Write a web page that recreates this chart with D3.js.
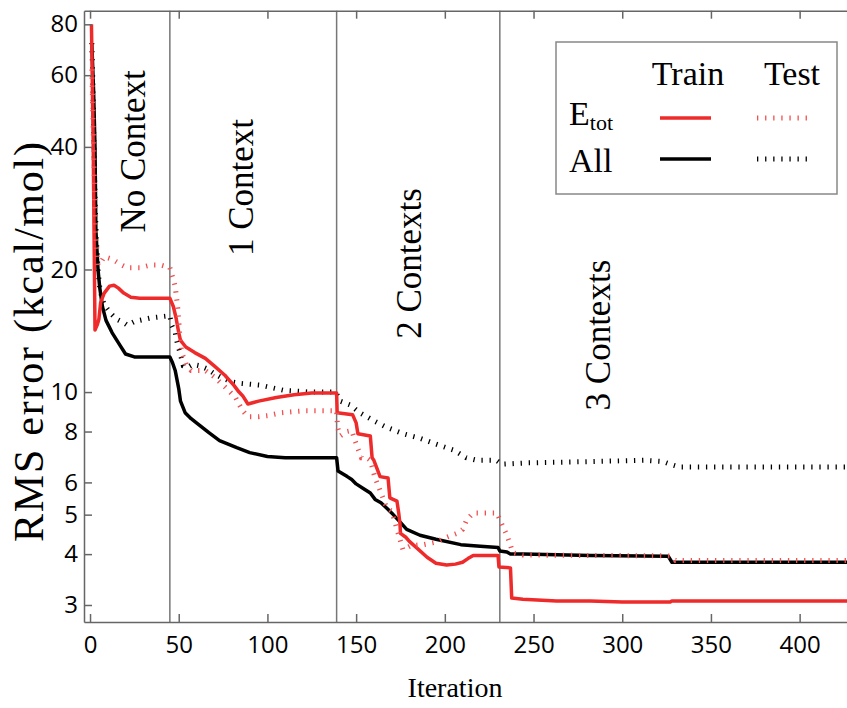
<!DOCTYPE html>
<html>
<head>
<meta charset="utf-8">
<script src="https://cdn.jsdelivr.net/npm/d3@7"></script>
<style>
  html, body { margin: 0; padding: 0; background: #fff; }
  svg { display: block; }
</style>
</head>
<body>
<svg id="chart" width="847" height="708"></svg>
<script>
// axis ticks
const iterTicks = [0, 50, 100, 150, 200, 250, 300, 350, 400];
const rmsTicks = [3, 4, 5, 6, 8, 10, 20, 40, 60, 80];

// where the context count changes (iteration)
const contextBounds = [45, 139, 231];
const phaseNames = ["No Context", "1 Context", "2 Contexts", "3 Contexts"];
const phaseIter = [31, 92, 186.5, 293];
const phaseRms = [39, 31.8, 20.7, 13.8];

// [iteration, RMS error]
const trainEtot = [
  [0.8, 80], [1.8, 40], [2.8, 14.2], [4, 14.6], [5, 15.1], [6, 16.6], [8, 17.5],
  [11, 18.2], [13.5, 18.3], [16, 18.0], [19, 17.5], [23, 17.1], [28, 17.0], [45, 17.0],
  [47, 16.2], [48.5, 15.2], [50, 14.0], [51, 13.4], [54, 12.9], [59, 12.5], [65, 12.1],
  [70, 11.6], [76, 11.0], [81, 10.4], [84, 10.0], [86, 9.8], [89, 9.35], [95, 9.5],
  [105, 9.7], [115, 9.85], [125, 9.95], [139, 9.95],
  [139.3, 8.9], [148, 8.8], [150, 8.4], [151, 7.9], [158, 7.8], [159, 6.9], [160, 6.8],
  [163.5, 6.2], [168, 6.15], [169, 5.5], [173, 5.4], [174, 5.05], [174.7, 4.75],
  [175, 4.5], [178, 4.4], [180, 4.3], [184, 4.15], [190, 3.93], [195, 3.8], [201, 3.76],
  [206, 3.78], [210, 3.82], [213, 3.9], [216, 3.97], [230, 3.97],
  [230.5, 3.72], [237, 3.7], [237.7, 3.12], [244, 3.1], [263, 3.07], [282, 3.07],
  [300, 3.05], [315, 3.05], [327, 3.05], [328, 3.07], [374, 3.07], [427, 3.07]
];
const testEtot = [
  [1, 62], [2, 40], [3, 25], [4.5, 20.5], [6, 20.8], [8, 21.5], [11, 21.3], [14, 21.0],
  [18, 20.5], [21, 20.2], [28, 20.2], [34, 20.5], [40, 20.5], [45, 20.2],
  [48, 18.2], [49.5, 16.0], [50.7, 13.6], [51.7, 12.5], [54.5, 11.6], [57, 11.3],
  [65, 11.3], [70, 10.9], [76, 10.3], [82, 9.7], [86, 9.0], [89, 8.7], [95, 8.7],
  [100, 8.75], [108, 8.9], [121, 9.0], [139, 9.0],
  [139.5, 8.2], [141, 7.8], [144.7, 8.0], [147.5, 8.05], [150.3, 7.4], [153, 6.9],
  [156, 6.9], [158, 6.8], [160.7, 6.15], [164.4, 5.6], [167.2, 5.2], [170, 5.1],
  [174.7, 4.35], [176.4, 4.1], [181, 4.2], [188, 4.22], [195, 4.28], [201, 4.4],
  [207, 4.5], [210, 4.6], [212.3, 4.85], [216, 5.05], [229.3, 5.05], [232, 4.75],
  [235, 4.45], [237, 4.2], [238.4, 4.03], [244, 3.98], [282, 3.97], [327, 3.96],
  [330, 3.86], [427, 3.86]
];
const trainAll = [
  [1, 72], [2, 55], [2.8, 40], [3.3, 25], [4.5, 20], [5.5, 18], [7, 16.2], [9, 15],
  [12.4, 14], [17, 13], [20, 12.4], [25, 12.2], [45, 12.2],
  [46.5, 11.8], [48, 11.3], [50, 10.2], [51, 9.5], [53.6, 8.9], [57, 8.6], [60, 8.4],
  [67, 7.95], [73, 7.6], [82.7, 7.3], [90, 7.1], [100, 6.95], [110, 6.9], [139, 6.9],
  [139.8, 6.4], [145, 6.2], [147.5, 6.1], [150, 5.95], [154, 5.8], [158, 5.65],
  [160.7, 5.45], [164, 5.35], [167, 5.2], [170, 5.05], [174.7, 4.8], [178.5, 4.6],
  [186, 4.45], [195, 4.35], [209, 4.22], [220, 4.18], [230, 4.15], [231, 4.07],
  [235, 4.05], [237, 4.0], [244, 4.0], [282, 3.97], [326, 3.95], [328, 3.82], [427, 3.82]
];
const testAll = [
  [1, 72], [1.5, 60], [2, 45], [2.5, 35], [3, 28], [3.5, 24], [4.5, 20], [5.6, 17.8],
  [7.9, 16.4], [11.7, 15.6], [15, 15.1], [19, 14.8], [21, 14.6], [25, 14.9], [34, 15.2],
  [45, 15.4],
  [46, 14.6], [48, 14.0], [49, 13.3], [50.7, 12.5], [52.6, 11.6], [55, 11.5], [58, 11.7],
  [62, 11.6], [66, 11.4], [70, 11.1], [75, 10.8], [80, 10.6], [85, 10.5], [96, 10.4],
  [109, 10.1], [124, 10.0], [138, 10.0],
  [139, 9.9], [141, 9.5], [146.6, 9.3], [152, 8.9], [160, 8.5], [167, 8.2], [176.6, 7.9],
  [186, 7.7], [195, 7.45], [205, 7.2], [212, 6.9], [218, 6.8], [229, 6.8], [232, 6.65],
  [246, 6.7], [282, 6.75], [312, 6.8], [323, 6.75], [327, 6.65], [332, 6.55], [427, 6.55]
];

const RED = "#ee2a2a";
const RED_DOT = "#f05050";
const FRAME = "#666";
const serif = "'Liberation Serif', 'Times New Roman', serif";
const sans = "'Open Sans', sans-serif";

const svg = d3.select("#chart");
const plotL = 84, plotR = 847, plotT = 10.7, plotB = 622;

const x = d3.scaleLinear().domain([-3.4, 426.7]).range([plotL, plotR]);
const y = d3.scaleLog().domain([2.725, 86.4]).range([plotB, plotT]);

svg.append("defs").append("clipPath").attr("id", "plot")
  .append("rect").attr("x", plotL).attr("y", plotT)
  .attr("width", plotR - plotL).attr("height", plotB - plotT);

// separators between context phases
svg.append("g").selectAll("line")
  .data(contextBounds)
  .join("line")
  .attr("x1", d => x(d)).attr("x2", d => x(d))
  .attr("y1", plotT).attr("y2", plotB)
  .attr("stroke", "#777").attr("stroke-width", 1.5);

// phase labels (rotated)
svg.append("g").selectAll("text")
  .data(phaseNames)
  .join("text")
  .attr("transform", (d, i) => `translate(${x(phaseIter[i])},${y(phaseRms[i])}) rotate(-90)`)
  .attr("text-anchor", "middle")
  .attr("font-family", serif)
  .attr("font-size", 35)
  .text(d => d);

// curves
const line = d3.line().x(d => x(d[0])).y(d => y(d[1]));
const curves = svg.append("g").attr("clip-path", "url(#plot)");

curves.append("path").datum(trainAll)
  .attr("d", line).attr("fill", "none")
  .attr("stroke", "#000").attr("stroke-width", 3.5).attr("stroke-linejoin", "round");
curves.append("path").datum(testAll)
  .attr("d", line).attr("fill", "none")
  .attr("stroke", "#000").attr("stroke-width", 5).attr("stroke-dasharray", "1.3,6.8");
curves.append("path").datum(trainEtot)
  .attr("d", line).attr("fill", "none")
  .attr("stroke", RED).attr("stroke-width", 3.5).attr("stroke-linejoin", "round");
curves.append("path").datum(testEtot)
  .attr("d", line).attr("fill", "none")
  .attr("stroke", RED_DOT).attr("stroke-width", 5).attr("stroke-dasharray", "1.3,6.8");

// axes: inward ticks
const xAxis = svg.append("g").attr("transform", `translate(0,${plotB})`)
  .call(d3.axisBottom(x).tickValues(iterTicks).tickSizeInner(-8).tickSizeOuter(0).tickPadding(14));
const xTop = svg.append("g").attr("transform", `translate(0,${plotT})`)
  .call(d3.axisTop(x).tickValues(iterTicks).tickSizeInner(-8).tickSizeOuter(0).tickFormat(""));
const yAxis = svg.append("g").attr("transform", `translate(${plotL},0)`)
  .call(d3.axisLeft(y).tickValues(rmsTicks).tickSizeInner(-8).tickSizeOuter(0)
    .tickPadding(6).tickFormat(d3.format("d")));

[xAxis, xTop, yAxis].forEach(a => {
  a.select(".domain").attr("stroke", FRAME).attr("stroke-width", 1.5);
  a.selectAll(".tick line").attr("stroke", FRAME).attr("stroke-width", 1.5);
  a.selectAll("text").attr("font-family", sans).attr("font-size", 24).attr("fill", "#000");
});
xAxis.selectAll("text").attr("dy", "0.71em");

// axis titles
svg.append("text")
  .attr("x", 455).attr("y", 697)
  .attr("text-anchor", "middle")
  .attr("font-family", serif).attr("font-size", 28)
  .text("Iteration");
svg.append("text")
  .attr("transform", "translate(43,342) rotate(-90)")
  .attr("text-anchor", "middle")
  .attr("font-family", serif).attr("font-size", 42)
  .attr("textLength", 400).attr("lengthAdjust", "spacing")
  .text("RMS error (kcal/mol)");

// legend
const lg = svg.append("g");
lg.append("rect")
  .attr("x", 556).attr("y", 42).attr("width", 281).attr("height", 152)
  .attr("fill", "#fff").attr("stroke", "#888").attr("stroke-width", 1.5);
lg.append("text").attr("x", 688).attr("y", 85).attr("text-anchor", "middle")
  .attr("font-family", serif).attr("font-size", 34).text("Train");
lg.append("text").attr("x", 792).attr("y", 85).attr("text-anchor", "middle")
  .attr("font-family", serif).attr("font-size", 34).text("Test");
const etot = lg.append("text").attr("x", 569).attr("y", 125)
  .attr("font-family", serif).attr("font-size", 34);
etot.append("tspan").text("E");
etot.append("tspan").attr("font-size", 22).attr("dy", 5).text("tot");
lg.append("text").attr("x", 569).attr("y", 172)
  .attr("font-family", serif).attr("font-size", 34).text("All");

const legendRows = [
  { y: 118, color: RED, dotColor: RED_DOT },
  { y: 159, color: "#000", dotColor: "#000" }
];
legendRows.forEach(r => {
  lg.append("line").attr("x1", 660).attr("x2", 711).attr("y1", r.y).attr("y2", r.y)
    .attr("stroke", r.color).attr("stroke-width", 3.5);
  lg.append("line").attr("x1", 757).attr("x2", 808).attr("y1", r.y).attr("y2", r.y)
    .attr("stroke", r.dotColor).attr("stroke-width", 5).attr("stroke-dasharray", "1.3,6.8");
});
</script>
</body>
</html>
